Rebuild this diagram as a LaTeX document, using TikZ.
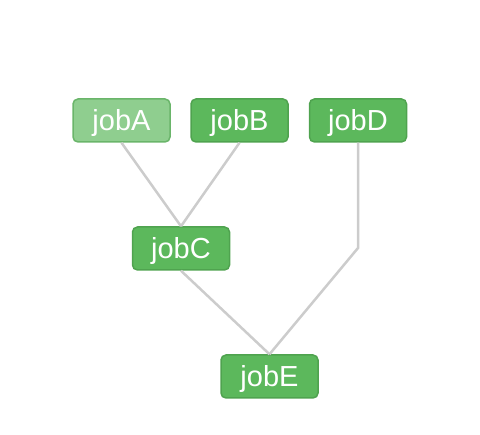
\documentclass[tikz,border=0pt]{standalone}
\usepackage{fontspec}
\setmainfont{Liberation Sans}
\definecolor{jobfill}{HTML}{5CB85C}
\definecolor{jobborder}{HTML}{4FA34F}
\definecolor{jobfilllight}{HTML}{8FCE8F}
\definecolor{jobborderlight}{HTML}{6AB56A}
\definecolor{edgegray}{HTML}{CCCCCC}
\tikzset{
  jobbox/.style={draw=jobborder, fill=jobfill, line width=1.5pt, rounded corners=5pt,
    minimum width=97pt, minimum height=43pt, inner sep=0pt, text=white,
    text height=23.5pt, text depth=2.5pt,
    font=\fontsize{29}{33}\selectfont},
  jobboxlight/.style={jobbox, draw=jobborderlight, fill=jobfilllight},
  edge/.style={draw=edgegray, line width=2.5pt}
}
\begin{document}
\begin{tikzpicture}[x=1pt,y=-1pt]
\useasboundingbox (0,0) rectangle (480,435);
\node[jobboxlight] (a) at (121.5,120.5) {jobA};
\node[jobbox] (b) at (239.5,120.5) {jobB};
\node[jobbox] (d) at (358,120.5) {jobD};
\node[jobbox] (c) at (181,248.5) {jobC};
\node[jobbox] (e) at (269.5,376.5) {jobE};
\coordinate (bend) at (358,248);
\draw[edge] (a.south) -- (c.north);
\draw[edge] (b.south) -- (c.north);
\draw[edge] (c.south) -- (e.north);
\draw[edge] (d.south) -- (bend) -- (e.north);
\end{tikzpicture}
\end{document}
